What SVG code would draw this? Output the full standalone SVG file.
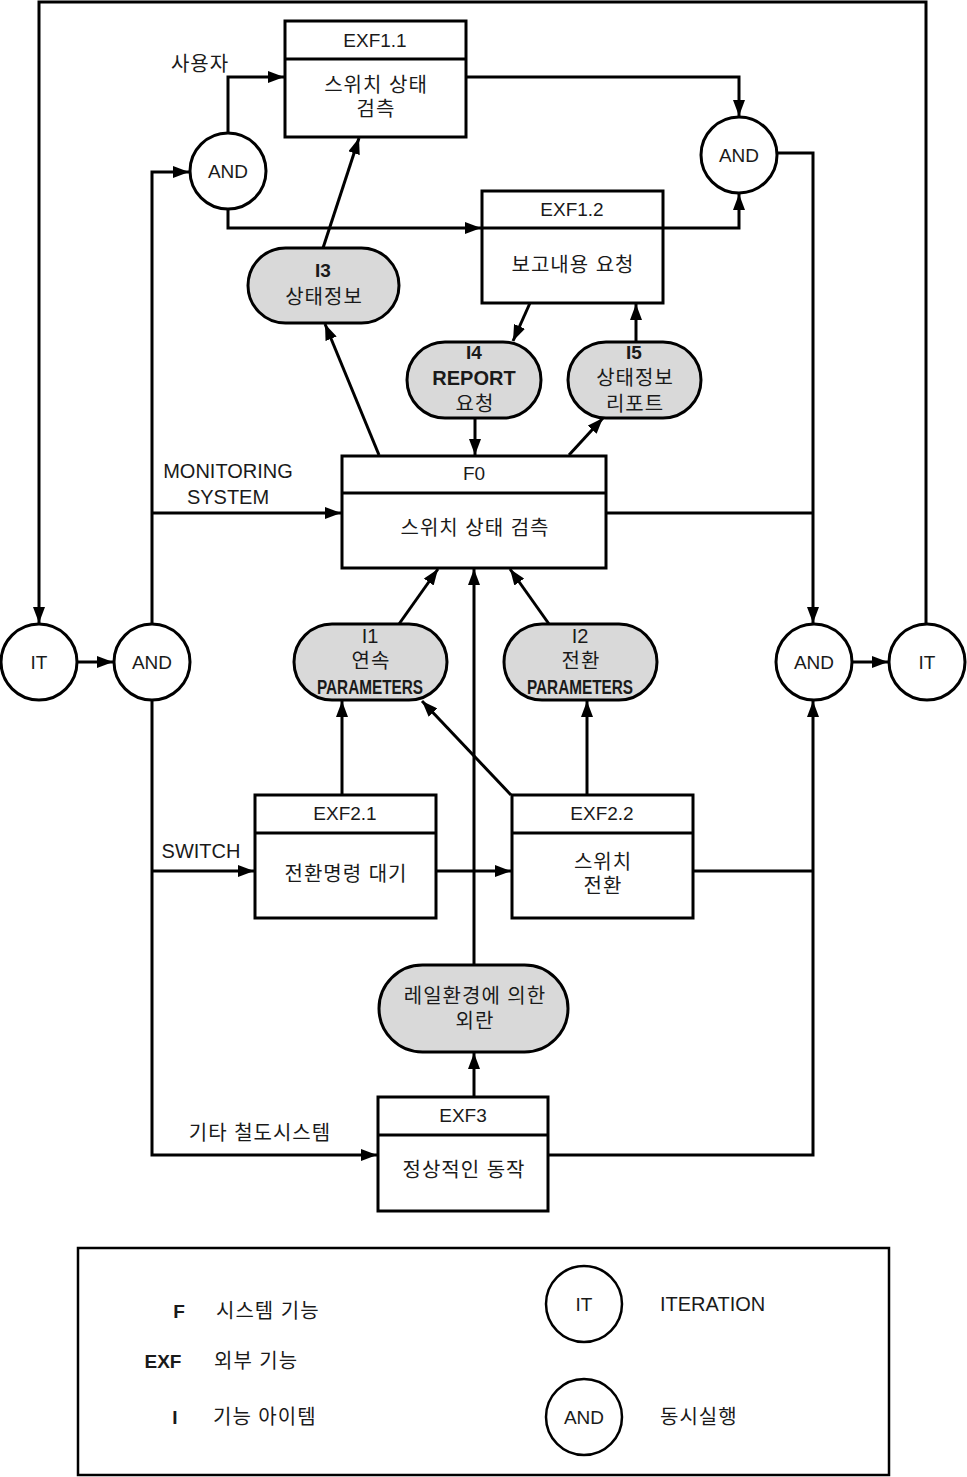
<svg xmlns="http://www.w3.org/2000/svg" width="967" height="1477" viewBox="0 0 967 1477">
<defs>
<marker id="arr" markerUnits="userSpaceOnUse" markerWidth="16" markerHeight="12" refX="16" refY="6" orient="auto">
<path d="M0,0 L16,6 L0,12 z" fill="#000"/>
</marker>
<style>
.box{fill:#fff;stroke:#000;stroke-width:3}
.pill{fill:#d9d9d9;stroke:#000;stroke-width:3}
.circ{fill:#fff;stroke:#000;stroke-width:3}
.ln{fill:none;stroke:#000;stroke-width:3}
.a{marker-end:url(#arr)}
text{font-family:"Liberation Sans","Noto Sans CJK KR",sans-serif;font-size:19px;fill:#1a1a1a;text-anchor:middle}
.k{font-size:20px;letter-spacing:1px}
.e{font-size:20px}
.b{font-weight:bold}
.l{text-anchor:start}
.p{font-size:20px;font-weight:bold}
</style>
</defs>
<rect width="967" height="1477" fill="#fff"/>

<g id="connectors">
<path class="ln a" d="M926,624 V2 H39 V623"/>
<path class="ln a" d="M77,662 H113"/>
<path class="ln a" d="M152,624 V172 H189"/>
<path class="ln a" d="M152,513 H341"/>
<path class="ln a" d="M152,700 V1155 H377"/>
<path class="ln a" d="M152,871 H254"/>
<path class="ln a" d="M228,133 V77 H284"/>
<path class="ln a" d="M228,209 V228 H481"/>
<path class="ln a" d="M466,77 H739 V116"/>
<path class="ln a" d="M663,228 H739 V194"/>
<path class="ln a" d="M777,153 H813 V623"/>
<path class="ln" d="M606,513 H813"/>
<path class="ln a" d="M852,662 H888"/>
<path class="ln" d="M693,871 H813"/>
<path class="ln a" d="M548,1155 H813 V701"/>
<path class="ln a" d="M379,455 L325,324"/>
<path class="ln a" d="M323,248 L359,138"/>
<path class="ln a" d="M530,303 L513,341"/>
<path class="ln a" d="M475,418 V455"/>
<path class="ln a" d="M569,455 L603,418"/>
<path class="ln a" d="M636,341 V304"/>
<path class="ln a" d="M399,624 L438,569"/>
<path class="ln a" d="M549,624 L510,569"/>
<path class="ln a" d="M474,965 V569"/>
<path class="ln a" d="M342,795 V701"/>
<path class="ln a" d="M511,795 L422,701"/>
<path class="ln a" d="M587,795 V701"/>
<path class="ln a" d="M436,871 H511"/>
<path class="ln a" d="M474,1097 V1053"/>
</g>

<g id="label-user"><text class="k" x="200" y="71">사용자</text></g>
<g id="label-monitoring"><text class="e" x="228" y="478">MONITORING</text><text class="e" x="228" y="504">SYSTEM</text></g>
<g id="label-switch"><text class="e" x="201" y="858">SWITCH</text></g>
<g id="label-other"><text class="k" x="260" y="1140">기타 철도시스템</text></g>

<g id="EXF1.1">
<rect class="box" x="285" y="21" width="181" height="116"/>
<line class="ln" x1="285" y1="59" x2="466" y2="59"/>
<text x="375" y="47">EXF1.1</text>
<text class="k" x="376" y="92">스위치 상태</text>
<text class="k" x="376" y="116">검측</text>
</g>

<g id="EXF1.2">
<rect class="box" x="482" y="191" width="181" height="112"/>
<line class="ln" x1="482" y1="228" x2="663" y2="228"/>
<text x="572" y="216">EXF1.2</text>
<text class="k" x="573" y="272">보고내용 요청</text>
</g>

<g id="AND-top-left">
<circle class="circ" cx="228" cy="171" r="38"/>
<text x="228" y="178">AND</text>
</g>

<g id="AND-top-right">
<circle class="circ" cx="739" cy="155" r="38"/>
<text x="739" y="162">AND</text>
</g>

<g id="I3">
<rect class="pill" x="248" y="248" width="151" height="75" rx="37.5"/>
<text class="b" x="323" y="277">I3</text>
<text class="k" x="324" y="304">상태정보</text>
</g>

<g id="I4">
<rect class="pill" x="407" y="342" width="134" height="76" rx="38"/>
<text class="b" x="474" y="359">I4</text>
<text class="b" x="474" y="385" style="font-size:20px">REPORT</text>
<text class="k" x="475" y="411">요청</text>
</g>

<g id="I5">
<rect class="pill" x="568" y="342" width="133" height="76" rx="38"/>
<text class="b" x="634" y="359">I5</text>
<text class="k" x="635" y="385">상태정보</text>
<text class="k" x="635" y="411">리포트</text>
</g>

<g id="F0">
<rect class="box" x="342" y="456" width="264" height="112"/>
<line class="ln" x1="342" y1="493" x2="606" y2="493"/>
<text x="474" y="480">F0</text>
<text class="k" x="475" y="535">스위치 상태 검측</text>
</g>

<g id="IT-left">
<circle class="circ" cx="39" cy="662" r="38"/>
<text x="39" y="669">IT</text>
</g>

<g id="AND-left">
<circle class="circ" cx="152" cy="662" r="38"/>
<text x="152" y="669">AND</text>
</g>

<g id="AND-right">
<circle class="circ" cx="814" cy="662" r="38"/>
<text x="814" y="669">AND</text>
</g>

<g id="IT-right">
<circle class="circ" cx="927" cy="662" r="38"/>
<text x="927" y="669">IT</text>
</g>

<g id="I1">
<rect class="pill" x="294" y="624" width="153" height="76" rx="38"/>
<text class="e" x="370" y="643">I1</text>
<text class="k" x="371" y="668">연속</text>
<text class="p" x="370" y="694" textLength="106" lengthAdjust="spacingAndGlyphs">PARAMETERS</text>
</g>

<g id="I2">
<rect class="pill" x="504" y="624" width="153" height="76" rx="38"/>
<text class="e" x="580" y="643">I2</text>
<text class="k" x="581" y="668">전환</text>
<text class="p" x="580" y="694" textLength="106" lengthAdjust="spacingAndGlyphs">PARAMETERS</text>
</g>

<g id="EXF2.1">
<rect class="box" x="255" y="795" width="181" height="123"/>
<line class="ln" x1="255" y1="833" x2="436" y2="833"/>
<text x="345" y="820">EXF2.1</text>
<text class="k" x="346" y="881">전환명령 대기</text>
</g>

<g id="EXF2.2">
<rect class="box" x="512" y="795" width="181" height="123"/>
<line class="ln" x1="512" y1="833" x2="693" y2="833"/>
<text x="602" y="820">EXF2.2</text>
<text class="k" x="603" y="869">스위치</text>
<text class="k" x="603" y="893">전환</text>
</g>

<g id="disturbance">
<rect class="pill" x="379" y="965" width="189" height="87" rx="43.5"/>
<text class="k" x="475" y="1003">레일환경에 의한</text>
<text class="k" x="475" y="1028">외란</text>
</g>

<g id="EXF3">
<rect class="box" x="378" y="1097" width="170" height="114"/>
<line class="ln" x1="378" y1="1135" x2="548" y2="1135"/>
<text x="463" y="1122">EXF3</text>
<text class="k" x="464" y="1177">정상적인 동작</text>
</g>

<g id="legend">
<rect x="78" y="1248" width="811" height="227" fill="#fff" stroke="#000" stroke-width="2.5"/>
<text class="b" x="179" y="1318">F</text>
<text class="k l" x="216" y="1318">시스템 기능</text>
<text class="b" x="163" y="1368">EXF</text>
<text class="k l" x="214" y="1368">외부 기능</text>
<text class="b" x="175" y="1424">I</text>
<text class="k l" x="213" y="1424">기능 아이템</text>
<circle class="circ" cx="584" cy="1304" r="38" style="stroke-width:2.5"/>
<text x="584" y="1311">IT</text>
<text class="e l" x="660" y="1311">ITERATION</text>
<circle class="circ" cx="584" cy="1417" r="38" style="stroke-width:2.5"/>
<text x="584" y="1424">AND</text>
<text class="k l" x="660" y="1424">동시실행</text>
</g>
</svg>
